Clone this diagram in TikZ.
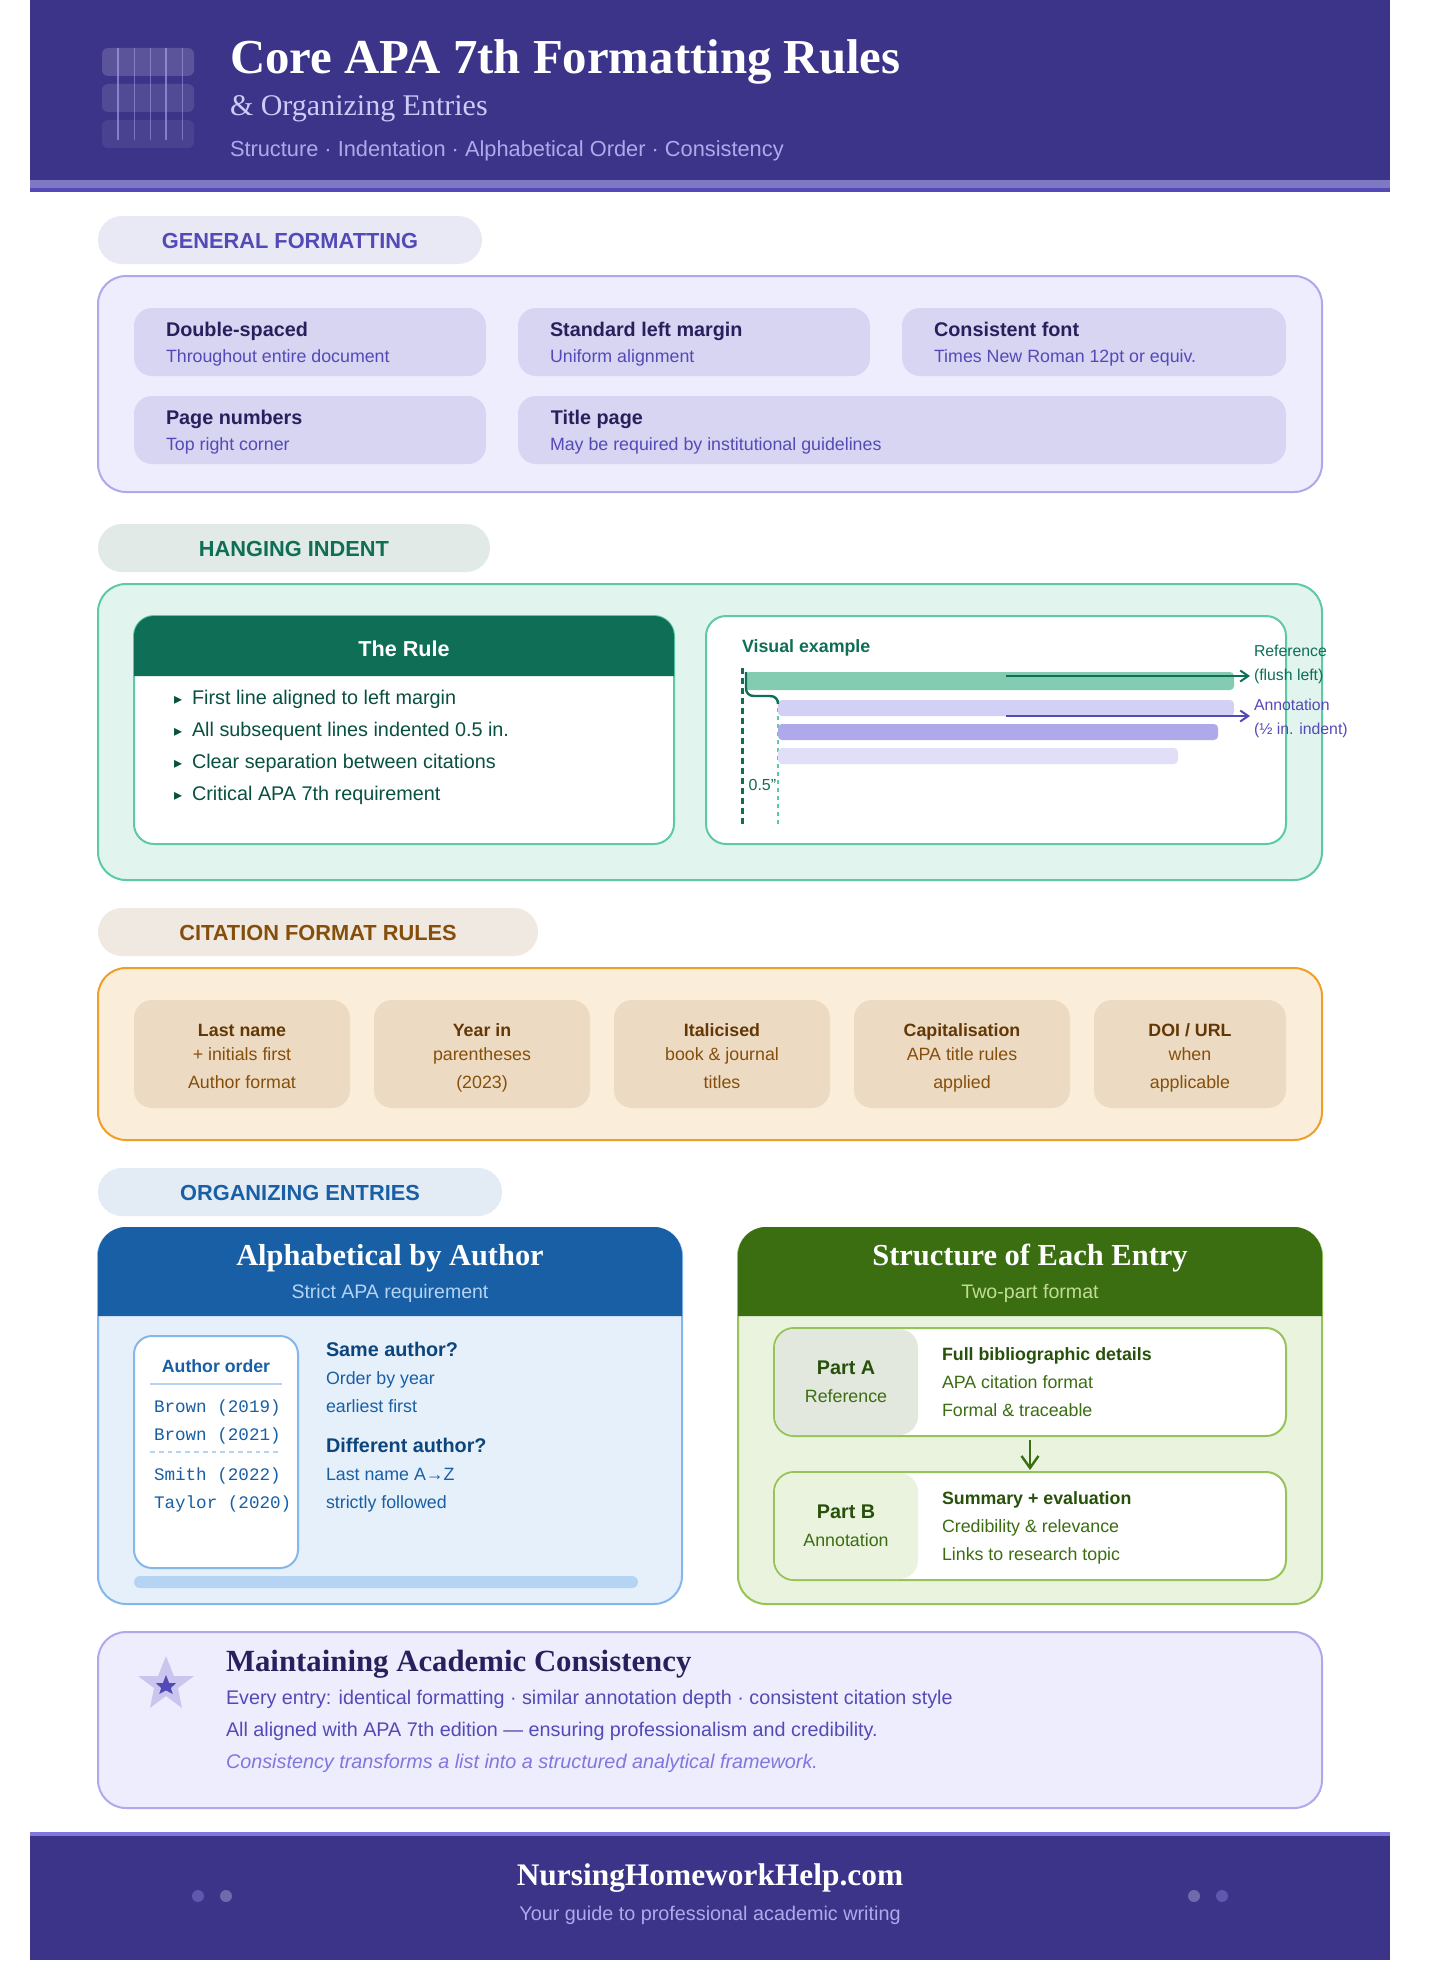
\documentclass[tikz,border=0pt]{standalone}
\usepackage{fontspec}
\setmainfont{Liberation Sans}
\setmonofont{Liberation Mono}
\newfontfamily\headfont{Liberation Serif}
\newfontfamily\glyphfont{DejaVu Sans}
\usetikzlibrary{arrows.meta}

\definecolor{indigoD}{HTML}{3C3489}
\definecolor{indigoM}{HTML}{534AB7}
\definecolor{indigoB}{HTML}{7F77DD}
\definecolor{indigoL}{HTML}{AFA9EC}
\definecolor{indigoS}{HTML}{CECBF6}
\definecolor{indigoC}{HTML}{D8D5F3}
\definecolor{indigoP}{HTML}{EEEDFE}
\definecolor{indigoX}{HTML}{26215C}
\definecolor{stripe}{HTML}{7F78C2}
\definecolor{tealD}{HTML}{0F6E56}
\definecolor{tealL}{HTML}{5DCAA5}
\definecolor{tealP}{HTML}{E1F5EE}
\definecolor{tealX}{HTML}{085041}
\definecolor{amberD}{HTML}{854F0B}
\definecolor{amberX}{HTML}{633806}
\definecolor{amberL}{HTML}{EF9F27}
\definecolor{amberP}{HTML}{FAEEDA}
\definecolor{amberC}{HTML}{ECDBC2}
\definecolor{blueD}{HTML}{185FA5}
\definecolor{blueX}{HTML}{0C447C}
\definecolor{blueL}{HTML}{85B7EB}
\definecolor{blueS}{HTML}{B5D4F4}
\definecolor{blueP}{HTML}{E6F0FB}
\definecolor{greenD}{HTML}{3B6D11}
\definecolor{greenX}{HTML}{27500A}
\definecolor{greenL}{HTML}{97C459}
\definecolor{greenS}{HTML}{C0DD97}
\definecolor{greenP}{HTML}{EAF3DE}
\definecolor{pillA}{HTML}{E9E8F5}
\definecolor{pillB}{HTML}{E1EAE6}
\definecolor{pillC}{HTML}{F0E9E2}
\definecolor{pillD}{HTML}{E3EBF4}
\definecolor{barA}{HTML}{83CBB1}
\definecolor{barB}{HTML}{D3D0F5}
\definecolor{barD}{HTML}{E1DFF8}
\definecolor{partA}{HTML}{E3E8DE}
\definecolor{starL}{HTML}{C9C5EE}
\definecolor{dotA}{HTML}{5F57B0}
\definecolor{dotB}{HTML}{7169AD}

\tikzset{
  lbl/.style={inner sep=0pt, outer sep=0pt, anchor=base west},
  mid/.style={inner sep=0pt, outer sep=0pt, anchor=base},
  sz/.style={font=\fontsize{#1}{#1}\selectfont},
  bsz/.style={font=\fontsize{#1}{#1}\selectfont\bfseries},
  hsz/.style={font=\fontsize{#1}{#1}\selectfont\headfont\bfseries},
  pilltxt/.style={mid, bsz=10.9},
  celltxt/.style={lbl, bsz=9.9, text=indigoX},
  cellsub/.style={lbl, sz=8.9, text=indigoM},
  gcell/.style={fill=indigoC, rounded corners=9pt},
  ccell/.style={fill=amberC, rounded corners=9pt},
  partbox/.style={draw=greenL, line width=1pt, fill=white, rounded corners=10pt, inner sep=0pt, outer sep=0pt, minimum width=256pt, minimum height=54pt},
  monotxt/.style={lbl, font=\fontsize{8.8}{8.8}\selectfont\ttfamily, text=blueD},
}

\begin{document}
\begin{tikzpicture}[x=1pt, y=-1pt]
  \fill[white] (-15,0) rectangle (705,990);
  \useasboundingbox (-15,0) rectangle (705,990);

  % Header band
  \fill[indigoD] (0,0) rectangle (680,90);
  \fill[stripe] (0,90) rectangle (680,94);
  \fill[indigoM] (0,94) rectangle (680,96);
  \fill[white, opacity=0.16, rounded corners=3pt] (36,24) rectangle (82,38);
  \fill[white, opacity=0.11, rounded corners=3pt] (36,42) rectangle (82,56);
  \fill[white, opacity=0.07, rounded corners=3pt] (36,60) rectangle (82,74);
  \foreach \lx/\lw/\op in {44/0.9/0.6, 52/0.5/0.5, 60/0.5/0.5, 68/0.9/0.6, 76/0.5/0.5}
    \draw[indigoL, opacity=\op, line width=\lw pt] (\lx,24) -- (\lx,70);
  \node[lbl, hsz=24.4, text=white] (title) at (100,37) {Core APA 7th Formatting Rules};
  \node[lbl, font=\fontsize{15}{15}\selectfont\headfont, text=indigoS] (subtitle) at (100,58) {\& Organizing Entries};
  \node[lbl, sz=10.9, text=indigoL] (tagline) at (100,78) {Structure · Indentation · Alphabetical Order · Consistency};

  % General formatting
  \fill[pillA, rounded corners=12pt] (34,108) rectangle (226,132);
  \node[pilltxt, text=indigoM] (genpill) at (130,124) {GENERAL FORMATTING};
  \draw[indigoL, fill=indigoP, line width=1pt, rounded corners=14pt] (34,138) rectangle (646,246);
  \fill[gcell] (52,154) rectangle (228,188);
  \fill[gcell] (244,154) rectangle (420,188);
  \fill[gcell] (436,154) rectangle (628,188);
  \fill[gcell] (52,198) rectangle (228,232);
  \fill[gcell] (244,198) rectangle (628,232);
  \node[celltxt] (dbl) at (68,168) {Double-spaced};
  \node[cellsub] (dblsub) at (68,181) {Throughout entire document};
  \node[celltxt] (marg) at (260,168) {Standard left margin};
  \node[cellsub] (margsub) at (260,181) {Uniform alignment};
  \node[celltxt] (fnt) at (452,168) {Consistent font};
  \node[cellsub] (fntsub) at (452,181) {Times New Roman 12pt or equiv.};
  \node[celltxt] (pgn) at (68,212) {Page numbers};
  \node[cellsub] (pgnsub) at (68,225) {Top right corner};
  \node[celltxt] (tpg) at (260.4,212) {Title page};
  \node[cellsub] (tpgsub) at (260,225) {May be required by institutional guidelines};

  % Hanging indent
  \fill[pillB, rounded corners=12pt] (34,262) rectangle (230,286);
  \node[pilltxt, text=tealD] (hangpill) at (132,278) {HANGING INDENT};
  \draw[tealL, fill=tealP, line width=1pt, rounded corners=14pt] (34,292) rectangle (646,440);

  % The rule card
  \draw[tealL, fill=white, line width=1pt, rounded corners=10pt] (52,308) rectangle (322,422);
  \fill[tealD] (52,338) [rounded corners=10pt] -- (52,308) -- (322,308) [sharp corners] -- (322,338) -- cycle;
  \node[mid, bsz=10.8, text=white] (rulehead) at (187,328) {The Rule};
  \foreach \nm/\ly/\tx in {ra/352/First line aligned to left margin, rb/368/All subsequent lines indented 0.5 in., rc/384/Clear separation between citations, rd/400/Critical APA 7th requirement}
    \node[lbl, sz=9.9, text=tealX] (\nm) at (72,\ly) {{\glyphfont\fontsize{8}{8}\selectfont ▸}\hspace{5pt}\tx};

  % Visual example card
  \draw[tealL, fill=white, line width=1pt, rounded corners=10pt] (338,308) rectangle (628,422);
  \node[lbl, bsz=8.9, text=tealD] (vishead) at (356,326) {Visual example};
  \draw[tealD, line width=1.5pt, dash pattern=on 3pt off 2pt] (356,334) -- (356,412);
  \draw[tealL, line width=0.7pt, dash pattern=on 2pt off 2pt] (374,350) -- (374,412);
  \fill[barA, rounded corners=2pt] (357.5,336) rectangle (602,345);
  \fill[barB, rounded corners=2pt] (374,350) rectangle (602,358);
  \fill[indigoL, rounded corners=2pt] (374,362) rectangle (594,370);
  \fill[barD, rounded corners=2pt] (374,374) rectangle (574,382);
  \draw[tealD, line width=1.2pt] (358,336) -- (358,344) .. controls (358,346.5) and (359.5,348) .. (362,348) -- (370,348) .. controls (372.5,348) and (374,349.5) .. (374,352);
  \node[lbl, sz=8, text=tealD] (halfin) at (359.3,395) {0.5"};
  \coordinate (refarrow) at (488,338);
  \coordinate (refend) at (610,338);
  \coordinate (annarrow) at (488,358);
  \coordinate (annend) at (610,358);
  \draw[tealD, line width=1pt, -{Straight Barb[length=4pt,width=5.5pt]}] (refarrow) -- (refend);
  \draw[indigoM, line width=1pt, -{Straight Barb[length=4pt,width=5.5pt]}] (annarrow) -- (annend);
  \node[lbl, sz=7.9, text=tealD] (refa) at (612,328) {Reference};
  \node[lbl, sz=7.9, text=tealD] (refb) at (612,340) {(flush left)};
  \node[lbl, sz=7.9, text=indigoM] (anna) at (612,355) {Annotation};
  \node[lbl, sz=7.9, text=indigoM] (annb) at (612,367) {(½ in. indent)};

  % Citation format rules
  \fill[pillC, rounded corners=12pt] (34,454) rectangle (254,478);
  \node[pilltxt, text=amberD] (citepill) at (144,470) {CITATION FORMAT RULES};
  \draw[amberL, fill=amberP, line width=1pt, rounded corners=14pt] (34,484) rectangle (646,570);
  \foreach \nm/\cx/\ua/\ub/\ta/\tb/\tc in {last/106/52/160/Last name/+ initials first/Author format, year/226/172/280/Year in/parentheses/(2023), ital/346/292/400/Italicised/book \& journal/titles, caps/466/412/520/Capitalisation/APA title rules/applied, doi/580/532/628/{DOI / URL}/when/applicable}{
    \fill[ccell] (\ua,500) rectangle (\ub,554);
    \node[mid, bsz=8.9, text=amberX] (\nm a) at (\cx,518) {\ta};
    \node[mid, sz=8.9, text=amberD] (\nm b) at (\cx,530) {\tb};
    \node[mid, sz=8.9, text=amberD] (\nm c) at (\cx,544) {\tc};
  }

  % Organizing entries
  \fill[pillD, rounded corners=12pt] (34,584) rectangle (236,608);
  \node[pilltxt, text=blueD] (orgpill) at (135,600) {ORGANIZING ENTRIES};

  % Alphabetical card
  \draw[blueL, fill=blueP, line width=1pt, rounded corners=14pt] (34,614) rectangle (326,802);
  \fill[blueD] (34,658) [rounded corners=14pt] -- (34,613.5) -- (326,613.5) [sharp corners] -- (326,658) -- cycle;
  \node[mid, hsz=15.2, text=white] (alphahead) at (180,632.5) {Alphabetical by Author};
  \node[mid, sz=9.75, text=blueS] (alphasub) at (180,649) {Strict APA requirement};
  \draw[blueL, fill=white, line width=1pt, rounded corners=9pt] (52,668) rectangle (134,784);
  \node[mid, bsz=8.85, text=blueD] (orderhead) at (93,686) {Author order};
  \draw[blueS, line width=1pt] (60,692) -- (126,692);
  \node[monotxt] (oa) at (62,706) {Brown (2019)};
  \node[monotxt] (ob) at (62,720) {Brown (2021)};
  \draw[blueS, line width=0.8pt, dash pattern=on 2.4pt off 2pt] (60,726) -- (126,726);
  \node[monotxt] (oc) at (62,740) {Smith (2022)};
  \node[monotxt] (od) at (62,754) {Taylor (2020)};
  \node[lbl, bsz=9.9, text=blueX] (samehead) at (148,678) {Same author?};
  \node[lbl, sz=8.9, text=blueD] (samea) at (148,692) {Order by year};
  \node[lbl, sz=8.9, text=blueD] (sameb) at (148,706) {earliest first};
  \node[lbl, bsz=9.9, text=blueX] (diffhead) at (148,726) {Different author?};
  \node[lbl, sz=8.9, text=blueD] (diffa) at (148,740) {Last name A→Z};
  \node[lbl, sz=8.9, text=blueD] (diffb) at (148,754) {strictly followed};
  \fill[blueS, rounded corners=3pt] (52,788) rectangle (304,794);

  % Structure card
  \draw[greenL, fill=greenP, line width=1pt, rounded corners=14pt] (354,614) rectangle (646,802);
  \fill[greenD] (354,658) [rounded corners=14pt] -- (354,613.5) -- (646,613.5) [sharp corners] -- (646,658) -- cycle;
  \node[mid, hsz=15.25, text=white] (structhead) at (500,632.5) {Structure of Each Entry};
  \node[mid, sz=9.8, text=greenS] (structsub) at (500,649) {Two-part format};
  \node[partbox] (parta) at (500,691) {};
  \node[partbox] (partb) at (500,763) {};
  \fill[partA, rounded corners=9.5pt] (372.5,664.5) rectangle (444,717.5);
  \fill[greenP, rounded corners=9.5pt] (372.5,736.5) rectangle (444,789.5);
  \draw[greenD, line width=1.2pt, shorten <=2pt, shorten >=1pt, -{Straight Barb[length=6pt,width=8.5pt]}] (parta) -- (partb);
  \node[mid, bsz=9.9, text=greenX] (partahead) at (408,687) {Part A};
  \node[mid, sz=8.9, text=greenD] (partasub) at (408,701) {Reference};
  \node[lbl, bsz=8.9, text=greenX] (aa) at (456,680) {Full bibliographic details};
  \node[lbl, sz=8.9, text=greenD] (ab) at (456,694) {APA citation format};
  \node[lbl, sz=8.9, text=greenD] (ac) at (456,708) {Formal \& traceable};
  \node[mid, bsz=9.9, text=greenX] (partbhead) at (408,759) {Part B};
  \node[mid, sz=8.9, text=greenD] (partbsub) at (408,773) {Annotation};
  \node[lbl, bsz=8.9, text=greenX] (ba) at (456,752) {Summary + evaluation};
  \node[lbl, sz=8.9, text=greenD] (bb) at (456,766) {Credibility \& relevance};
  \node[lbl, sz=8.9, text=greenD] (bc) at (456,780) {Links to research topic};

  % Consistency note
  \draw[indigoL, fill=indigoP, line width=1pt, rounded corners=14pt] (34,816) rectangle (646,904);
  \fill[starL] (68,828) -- (72,838) -- (82,838) -- (74,844) -- (76,854) -- (68,848) -- (60,854) -- (62,844) -- (54,838) -- (64,838) -- cycle;
  \fill[indigoM] (68,837.5) -- (69.6,841.6) -- (73,841.6) -- (70.4,844) -- (71.4,847) -- (68,845.2) -- (64.6,847) -- (65.6,844) -- (63,841.6) -- (66.4,841.6) -- cycle;
  \node[lbl, hsz=15.4, text=indigoX] (notehead) at (98,835.5) {Maintaining Academic Consistency};
  \node[lbl, sz=9.88, text=indigoM] (notea) at (98,852) {Every entry: identical formatting · similar annotation depth · consistent citation style};
  \node[lbl, sz=9.88, text=indigoM] (noteb) at (98,868) {All aligned with APA 7th edition — ensuring professionalism and credibility.};
  \node[lbl, font=\fontsize{9.9}{9.9}\selectfont\itshape, text=indigoB] (notec) at (98,884) {Consistency transforms a list into a structured analytical framework.};

  % Footer band
  \fill[indigoB] (0,916) rectangle (680,918);
  \fill[indigoD] (0,918) rectangle (680,980);
  \node[mid, hsz=15.7, text=white] (site) at (340,942.5) {NursingHomeworkHelp.com};
  \node[mid, sz=9.9, text=indigoL] (guide) at (340,960) {Your guide to professional academic writing};
  \fill[dotA] (84,948) circle (3);
  \fill[dotB] (98,948) circle (3);
  \fill[dotB] (582,948) circle (3);
  \fill[dotA] (596,948) circle (3);
\end{tikzpicture}
\end{document}
